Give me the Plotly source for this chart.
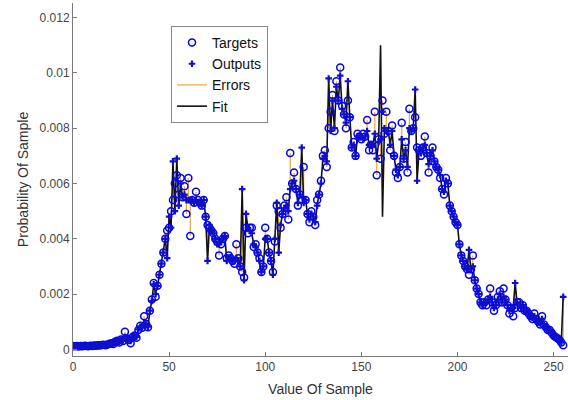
import plotly.graph_objects as go

# Sample values 0..255
sample_values = list(range(256))

# Target probabilities (open circles)
targets = [
    0.00012, 0.00011, 0.00012, 0.00010, 0.00012, 0.00011, 0.00013, 0.00012, 0.00011, 0.00013,
    0.00012, 0.00014, 0.00013, 0.00015, 0.00014, 0.00016, 0.00017, 0.00015, 0.00018, 0.00020,
    0.00022, 0.00019, 0.00028, 0.00031, 0.00025, 0.00036, 0.00030, 0.00064, 0.00040, 0.00034,
    0.00022, 0.00045, 0.00050, 0.00042, 0.00070, 0.00085, 0.00078, 0.00120, 0.00092, 0.00080,
    0.00140, 0.00180, 0.00240, 0.00190, 0.00230, 0.00270, 0.00310, 0.00350, 0.00400, 0.00430,
    0.00440, 0.00500, 0.00540, 0.00600, 0.00630, 0.00560, 0.00620, 0.00550, 0.00590, 0.00490,
    0.00620, 0.00410, 0.00540, 0.00530, 0.00570, 0.00540, 0.00530, 0.00520, 0.00540, 0.00480,
    0.00450, 0.00440, 0.00430, 0.00420, 0.00400, 0.00390, 0.00340, 0.00380, 0.00400, 0.00410,
    0.00330, 0.00340, 0.00330, 0.00320, 0.00310, 0.00380, 0.00330, 0.00300, 0.00280, 0.00260,
    0.00440, 0.00420, 0.00440, 0.00440, 0.00370, 0.00380, 0.00350, 0.00330, 0.00280, 0.00300,
    0.00440, 0.00400, 0.00350, 0.00320, 0.00280, 0.00390, 0.00520, 0.00500, 0.00440, 0.00490,
    0.00520, 0.00550, 0.00470, 0.00710, 0.00600, 0.00640, 0.00580, 0.00520, 0.00560, 0.00540,
    0.00660, 0.00540, 0.00490, 0.00460, 0.00500, 0.00480, 0.00450, 0.00540, 0.00560, 0.00610,
    0.00700, 0.00720, 0.00660, 0.00800, 0.00860, 0.00920, 0.00790, 0.00970, 0.00900, 0.01020,
    0.00880, 0.00850, 0.00800, 0.00900, 0.00840, 0.00730, 0.00750, 0.00700, 0.00780, 0.00770,
    0.00760, 0.00780, 0.00770, 0.00830, 0.00720, 0.00740, 0.00720, 0.00860, 0.00630, 0.00760,
    0.00690, 0.00900, 0.00780, 0.00860, 0.00790, 0.00720, 0.00810, 0.00700, 0.00640, 0.00620,
    0.00660, 0.00820, 0.00690, 0.00750, 0.00640, 0.00870, 0.00790, 0.00800, 0.00840, 0.00730,
    0.00720, 0.00700, 0.00730, 0.00770, 0.00710, 0.00640, 0.00700, 0.00730, 0.00680, 0.00660,
    0.00650, 0.00620, 0.00580, 0.00560, 0.00620, 0.00600, 0.00520, 0.00500, 0.00480, 0.00460,
    0.00450, 0.00380, 0.00340, 0.00320, 0.00300, 0.00290, 0.00270, 0.00290, 0.00340, 0.00250,
    0.00220, 0.00200, 0.00170, 0.00160, 0.00170, 0.00160, 0.00180, 0.00220, 0.00170, 0.00140,
    0.00160, 0.00190, 0.00210, 0.00170, 0.00220, 0.00180, 0.00160, 0.00130, 0.00150, 0.00120,
    0.00150, 0.00170, 0.00170, 0.00150, 0.00160, 0.00140, 0.00140, 0.00130, 0.00120, 0.00110,
    0.00130, 0.00110, 0.00100, 0.00090, 0.00120, 0.00090, 0.00080, 0.00070, 0.00070, 0.00060,
    0.00050, 0.00045, 0.00040, 0.00035, 0.00025, 0.00015,
]

# Network outputs (filled markers)
outputs = [
    0.00012, 0.00011, 0.00012, 0.00010, 0.00012, 0.00011, 0.00013, 0.00012, 0.00011, 0.00013,
    0.00012, 0.00014, 0.00013, 0.00015, 0.00014, 0.00016, 0.00017, 0.00015, 0.00018, 0.00020,
    0.00022, 0.00021, 0.00026, 0.00030, 0.00027, 0.00034, 0.00032, 0.00045, 0.00040, 0.00036,
    0.00030, 0.00044, 0.00050, 0.00045, 0.00072, 0.00082, 0.00080, 0.00095, 0.00090, 0.00082,
    0.00140, 0.00175, 0.00235, 0.00200, 0.00230, 0.00270, 0.00310, 0.00350, 0.00400, 0.00330,
    0.00480, 0.00440, 0.00680, 0.00500, 0.00690, 0.00520, 0.00600, 0.00550, 0.00560, 0.00540,
    0.00540, 0.00540, 0.00540, 0.00530, 0.00540, 0.00530, 0.00530, 0.00520, 0.00540, 0.00480,
    0.00320, 0.00450, 0.00430, 0.00420, 0.00400, 0.00380, 0.00380, 0.00390, 0.00400, 0.00410,
    0.00320, 0.00330, 0.00330, 0.00320, 0.00320, 0.00330, 0.00320, 0.00300, 0.00580, 0.00250,
    0.00490, 0.00440, 0.00430, 0.00420, 0.00380, 0.00370, 0.00350, 0.00320, 0.00280, 0.00300,
    0.00400, 0.00400, 0.00350, 0.00320, 0.00270, 0.00400, 0.00530, 0.00350, 0.00450, 0.00490,
    0.00510, 0.00520, 0.00500, 0.00580, 0.00600, 0.00610, 0.00580, 0.00530, 0.00560, 0.00730,
    0.00530, 0.00540, 0.00490, 0.00470, 0.00490, 0.00480, 0.00460, 0.00520, 0.00560, 0.00600,
    0.00690, 0.00700, 0.00680, 0.00980, 0.00790, 0.00900, 0.00800, 0.00950, 0.00900, 0.00990,
    0.00870, 0.00850, 0.00820, 0.00970, 0.00840, 0.00730, 0.00740, 0.00700, 0.00770, 0.00770,
    0.00770, 0.00760, 0.00770, 0.00790, 0.00740, 0.00740, 0.00740, 0.00780, 0.00690, 0.00750,
    0.00760, 0.00860, 0.00800, 0.00790, 0.00790, 0.00740, 0.00790, 0.00700, 0.00650, 0.00630,
    0.00660, 0.00760, 0.00690, 0.00720, 0.00660, 0.00800, 0.00790, 0.00800, 0.00940, 0.00610,
    0.00720, 0.00710, 0.00730, 0.00740, 0.00710, 0.00670, 0.00700, 0.00720, 0.00680, 0.00660,
    0.00650, 0.00630, 0.00580, 0.00570, 0.00610, 0.00600, 0.00520, 0.00500, 0.00480, 0.00460,
    0.00450, 0.00380, 0.00340, 0.00320, 0.00300, 0.00290, 0.00360, 0.00290, 0.00300, 0.00250,
    0.00220, 0.00200, 0.00170, 0.00160, 0.00170, 0.00170, 0.00180, 0.00190, 0.00170, 0.00150,
    0.00160, 0.00180, 0.00200, 0.00170, 0.00190, 0.00180, 0.00160, 0.00140, 0.00150, 0.00150,
    0.00240, 0.00170, 0.00160, 0.00150, 0.00160, 0.00140, 0.00140, 0.00130, 0.00120, 0.00115,
    0.00120, 0.00110, 0.00100, 0.00095, 0.00110, 0.00090, 0.00080, 0.00070, 0.00068, 0.00060,
    0.00050, 0.00045, 0.00040, 0.00035, 0.00025, 0.00190,
]

# Fit curve follows the outputs except for its overshoot around x = 160
fit_overrides = {160: 0.01100, 161: 0.00480}
fit = [fit_overrides.get(xv, o) for xv, o in zip(sample_values, outputs)]

x_ticks = [0, 50, 100, 150, 200, 250]
y_ticks = [0, 0.002, 0.004, 0.006, 0.008, 0.01, 0.012]
y_tick_labels = ["0", "0.002", "0.004", "0.006", "0.008", "0.01", "0.012"]

# Error segments: one vertical stroke per sample from target to output
err_x, err_y = [], []
for xv, t, o in zip(sample_values, targets, outputs):
    err_x += [xv, xv, None]
    err_y += [t, o, None]

FONT = "Liberation Sans, Arial, sans-serif"
BLUE = "#0000ff"

fig = go.Figure()
fig.add_trace(go.Scatter(
    x=err_x, y=err_y, mode="lines", name="Errors", legendrank=3,
    line=dict(color="#e8a838", width=1.2),
))
fig.add_trace(go.Scatter(
    x=sample_values, y=fit, mode="lines", name="Fit", legendrank=4,
    line=dict(color="#111111", width=1.6),
))
fig.add_trace(go.Scatter(
    x=sample_values, y=targets, mode="markers", name="Targets", legendrank=1,
    marker=dict(symbol="circle-open", size=7, color=BLUE, line=dict(width=1.5, color=BLUE)),
))
fig.add_trace(go.Scatter(
    x=sample_values, y=outputs, mode="markers", name="Outputs", legendrank=2,
    marker=dict(symbol="cross", size=5.5, color="#1010c8", line=dict(width=0)),
))

axis_common = dict(
    showgrid=False, zeroline=False, showline=True, linecolor="#7a7a7a", linewidth=1,
    ticks="inside", ticklen=4, tickcolor="#7a7a7a", mirror=False,
    tickfont=dict(family=FONT, size=12, color="#444444"),
)

fig.update_layout(
    width=568, height=400,
    margin=dict(l=73, r=0, t=3, b=44),
    paper_bgcolor="white", plot_bgcolor="white",
    showlegend=True,
    legend=dict(
        x=0.198, y=0.935, xanchor="left", yanchor="top",
        bgcolor="white", bordercolor="#888888", borderwidth=1,
        font=dict(family=FONT, size=14, color="#111111"),
        tracegroupgap=0, itemwidth=30,
    ),
    xaxis=dict(
        range=[0, 257.5], tickvals=x_ticks,
        title=dict(text="Value Of Sample", font=dict(family=FONT, size=14, color="#333333"), standoff=10),
        **axis_common,
    ),
    yaxis=dict(
        range=[-0.00024, 0.01253], tickvals=y_ticks, ticktext=y_tick_labels,
        title=dict(text="Probability Of Sample", font=dict(family=FONT, size=14, color="#333333"), standoff=7),
        **axis_common,
    ),
)

fig.write_html("out.html")
